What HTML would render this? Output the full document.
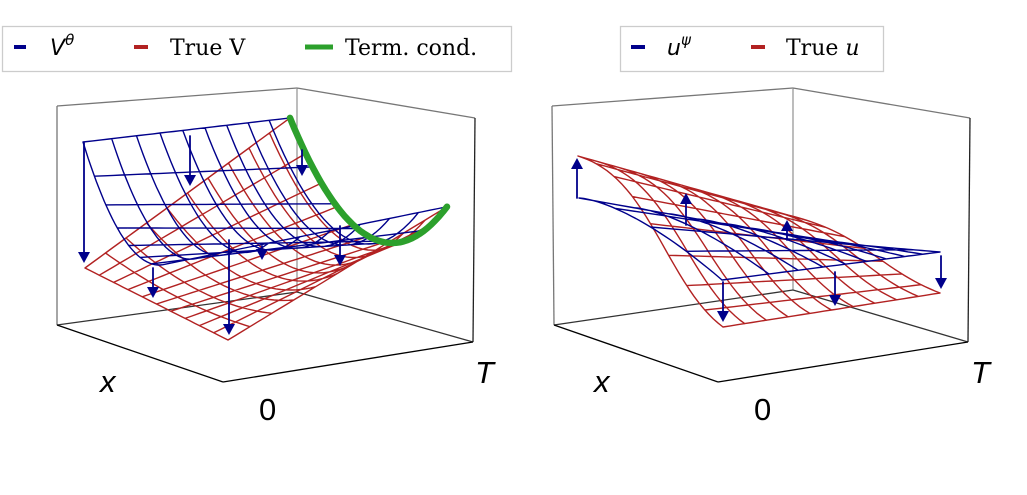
<!DOCTYPE html>
<html><head><meta charset="utf-8"><style>
html,body{margin:0;padding:0;background:#fff;}
svg{display:block;}
</style></head><body>
<svg id="s" width="1027" height="495" viewBox="0 0 1027 495" xmlns="http://www.w3.org/2000/svg" font-family="Liberation Sans, DejaVu Sans, sans-serif">
<g fill="none" stroke-width="1.3">
<line x1="57" y1="106" x2="57" y2="325" stroke="#777"/>
<line x1="57" y1="106" x2="297" y2="88" stroke="#777"/>
<line x1="297" y1="88" x2="297" y2="292" stroke="#999"/>
<line x1="297" y1="88" x2="475" y2="118" stroke="#777"/>
<line x1="475" y1="118" x2="473" y2="342" stroke="#222"/>
<line x1="57" y1="325" x2="297" y2="292" stroke="#333"/>
<line x1="297" y1="292" x2="473" y2="342" stroke="#333"/>
<line x1="57" y1="325" x2="223" y2="382" stroke="#000"/>
<line x1="223" y1="382" x2="473" y2="342" stroke="#000"/>
<line x1="552" y1="106" x2="554" y2="325" stroke="#777"/>
<line x1="552" y1="106" x2="793" y2="88" stroke="#777"/>
<line x1="793" y1="88" x2="793" y2="290" stroke="#999"/>
<line x1="793" y1="88" x2="970" y2="118" stroke="#777"/>
<line x1="970" y1="118" x2="968" y2="342" stroke="#222"/>
<line x1="554" y1="325" x2="793" y2="290" stroke="#333"/>
<line x1="793" y1="290" x2="968" y2="342" stroke="#333"/>
<line x1="554" y1="325" x2="718" y2="382" stroke="#000"/>
<line x1="718" y1="382" x2="968" y2="342" stroke="#000"/>
</g>
<g id="surf"></g>
<g font-size="31" fill="#000">
<text x="100" y="392" font-style="italic">x</text>
<text x="259" y="420">0</text>
<text x="475" y="383" font-style="italic">T</text>
<text x="594" y="392" font-style="italic">x</text>
<text x="754" y="420">0</text>
<text x="971" y="383" font-style="italic">T</text>
</g>
<rect x="2.5" y="26.5" width="509" height="45" fill="#fff" stroke="#ccc" stroke-width="1.3"/>
<line x1="14" y1="47" x2="26" y2="47" stroke="#00008b" stroke-width="4"/>
<text x="50" y="55" font-size="22" font-style="italic" font-family="DejaVu Sans, sans-serif">V<tspan font-size="15" dy="-10">θ</tspan></text>
<line x1="134" y1="47" x2="148" y2="47" stroke="#b22222" stroke-width="4"/>
<text x="170" y="55" font-size="22" font-family="DejaVu Serif, Liberation Serif, serif">True V</text>
<line x1="305" y1="47" x2="333" y2="47" stroke="#2ca02c" stroke-width="5"/>
<text x="345" y="55" font-size="22" font-family="DejaVu Serif, Liberation Serif, serif">Term. cond.</text>
<rect x="620.5" y="26.5" width="263" height="45" fill="#fff" stroke="#ccc" stroke-width="1.3"/>
<line x1="631" y1="47" x2="645" y2="47" stroke="#00008b" stroke-width="4"/>
<text x="667" y="55" font-size="22" font-style="italic" font-family="DejaVu Sans, sans-serif">u<tspan font-size="15" dy="-10">ψ</tspan></text>
<line x1="751" y1="47" x2="765" y2="47" stroke="#b22222" stroke-width="4"/>
<text x="786" y="55" font-size="22" font-family="DejaVu Serif, Liberation Serif, serif">True <tspan font-style="italic">u</tspan></text>
</svg>
<script>
(function(){
var NS="http://www.w3.org/2000/svg",g=document.getElementById("surf");
function L(a,b,t){return [a[0]+(b[0]-a[0])*t,a[1]+(b[1]-a[1])*t];}
function path(d,c,w){var p=document.createElementNS(NS,"path");p.setAttribute("d",d);p.setAttribute("stroke",c);p.setAttribute("stroke-width",w);p.setAttribute("fill","none");p.setAttribute("stroke-linejoin","round");p.setAttribute("stroke-linecap","round");g.appendChild(p);}
function grid(f,ns,nt,c){
 var d="",N=30,i,j,k;
 for(i=0;i<=ns;i++){for(k=0;k<=N;k++){var p=f(i/ns,k/N);d+=(k?"L":"M")+p[0].toFixed(1)+" "+p[1].toFixed(1);}}
 for(j=0;j<=nt;j++){for(k=0;k<=N;k++){var p=f(k/N,j/nt);d+=(k?"L":"M")+p[0].toFixed(1)+" "+p[1].toFixed(1);}}
 path(d,c,1.4);
}
function arrow(x,y1,y2){
 var dir=y2>y1?1:-1;
 path("M"+x+" "+y1+"L"+x+" "+(y2-dir*8),"#00008b",1.8);
 var p=document.createElementNS(NS,"polygon");
 p.setAttribute("points",(x-6)+","+(y2-dir*11)+" "+(x+6)+","+(y2-dir*11)+" "+x+","+y2);
 p.setAttribute("fill","#00008b");g.appendChild(p);
}
function green(s){return [290+157*s,243-296*(s-0.65)*(s-0.65)];}
function red0(s){return L([85,268],[228,340],s);}
function blue0(s){var q=(s-0.95)/0.95;return [83+80*s,265-123*q*q];}
grid(function(s,t){return L(red0(s),green(s),t);},10,10,"#b22222");
grid(function(s,t){var tt=Math.pow(t,0.9);return L(blue0(s),green(s),tt);},7,9,"#00008b");
var gd="";for(var k=0;k<=40;k++){var p=green(k/40);gd+=(k?"L":"M")+p[0].toFixed(1)+" "+p[1].toFixed(1);}
path(gd,"#2ca02c",6.5);
arrow(84,143,263);arrow(190,136,186);arrow(153,268,298);arrow(229,240,335);arrow(340,226,266);arrow(262,246,260);arrow(302,150,176);
function sig(s){return 1/(1+Math.exp(-5*(s-0.6)));}
function r0(s){var e=(sig(s)-sig(0))/(sig(1)-sig(0));return [578+145*s,156+171*e];}
function r1(s){var e=(sig(s)-sig(0))/(sig(1)-sig(0));return [788+152*s,215+78*(0.3*s+0.7*e)];}
grid(function(s,t){return L(r0(s),r1(s),t);},8,10,"#b22222");
function b0(s){return [579+143*s,198+82*Math.pow(s,1.5)];}
function b1(s){return [833+107*s,243+9*s];}
grid(function(s,t){var tt=Math.pow(t,0.7);return L(b0(s),b1(s),tt);},4,9,"#00008b");
arrow(577,198,158);arrow(686,225,193);arrow(787,240,220);arrow(723,282,322);arrow(835,272,306);arrow(941,256,289);
})();
</script>
</body></html>
